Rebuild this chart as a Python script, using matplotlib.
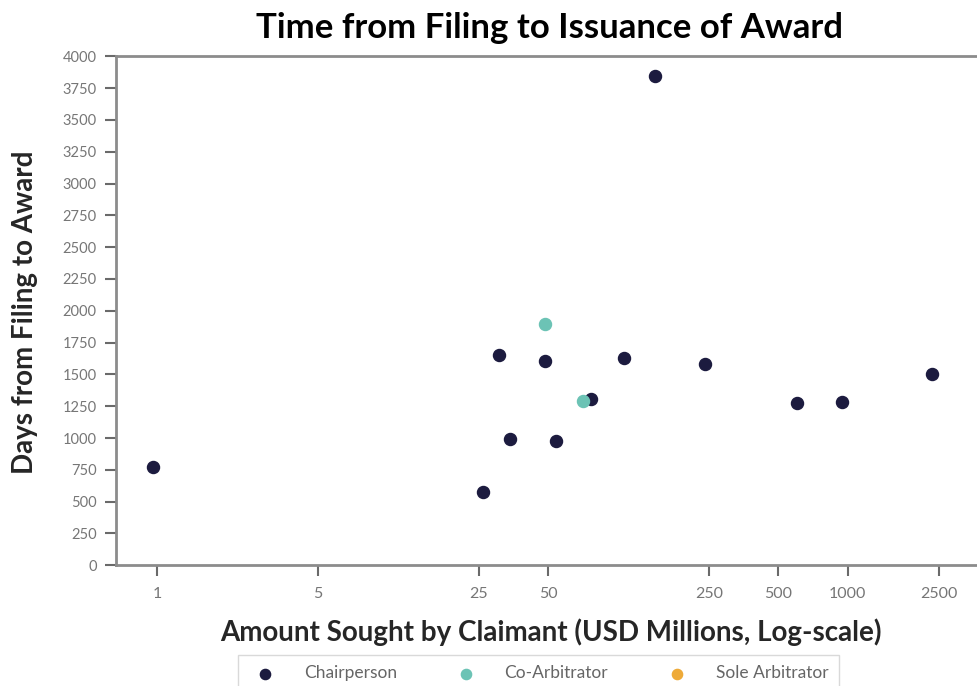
import matplotlib
matplotlib.use('Agg')
import matplotlib.pyplot as plt

plt.rcParams['font.family'] = ['Lato', 'DejaVu Sans']

# amount sought (USD millions) and days from filing to award, by role
chair_amount = [0.96, 26, 30.5, 34.3, 48.6, 54, 77, 107, 146, 239, 604, 942, 2318]
chair_days = [775, 575, 1655, 995, 1605, 980, 1305, 1630, 3845, 1580, 1275, 1280, 1500]
co_amount = [48.2, 71]
co_days = [1895, 1290]
sole_amount = []
sole_days = []

x_ticks = [1, 5, 25, 50, 250, 500, 1000, 2500]
y_ticks = list(range(0, 4001, 250))

navy = '#1c1b3f'
teal = '#6cc3b5'
orange = '#eeaa38'
grey = '#8c8c8c'

fig = plt.figure(figsize=(9.77, 6.86), dpi=100)
ax = fig.add_axes([0.1187, 0.176, 0.880, 0.742])

ax.scatter(chair_amount, chair_days, s=75, color=navy, label='Chairperson', zorder=3)
ax.scatter(co_amount, co_days, s=75, color=teal, label='Co-Arbitrator', zorder=3)
ax.scatter(sole_amount, sole_days, s=75, color=orange, label='Sole Arbitrator', zorder=3)

ax.set_xscale('log')
ax.set_xlim(0.663, 3600)
ax.set_ylim(0, 4000)
ax.set_xticks(x_ticks)
ax.set_xticklabels([str(t) for t in x_ticks])
ax.minorticks_off()
ax.set_yticks(y_ticks)

for side in ['left', 'bottom', 'top']:
    ax.spines[side].set_color(grey)
    ax.spines[side].set_linewidth(2)
ax.spines['right'].set_visible(False)
ax.tick_params(colors='#6a6a6a', labelcolor='#767676', width=1.5, length=8)
ax.tick_params(axis='x', labelsize=11.5, pad=8)
ax.tick_params(axis='y', labelsize=10.5, pad=6)

fig.text(550 / 977, 1 - 28 / 686, 'Time from Filing to Issuance of Award',
         fontsize=25, fontweight='bold', ha='center', va='center')
ax.set_xlabel('Amount Sought by Claimant (USD Millions, Log-scale)', fontsize=20,
              fontweight='bold', color='#262626', va='center')
ax.xaxis.set_label_coords(0.506, -0.132)
ax.set_ylabel('Days from Filing to Award', fontsize=20, fontweight='bold',
              color='#262626', va='center', ha='center')
ax.yaxis.set_label_coords(-0.106, 0.497)

fig.legend(loc='upper left', bbox_to_anchor=(229 / 977, 1 - 646 / 686), ncol=3,
           fontsize=12.5, frameon=True, edgecolor='#d0d0d0', fancybox=False,
           columnspacing=3.0, handletextpad=1.2, borderpad=0.6, markerscale=0.85,
           labelcolor='#666666')

fig.savefig('out.png', dpi=100)
